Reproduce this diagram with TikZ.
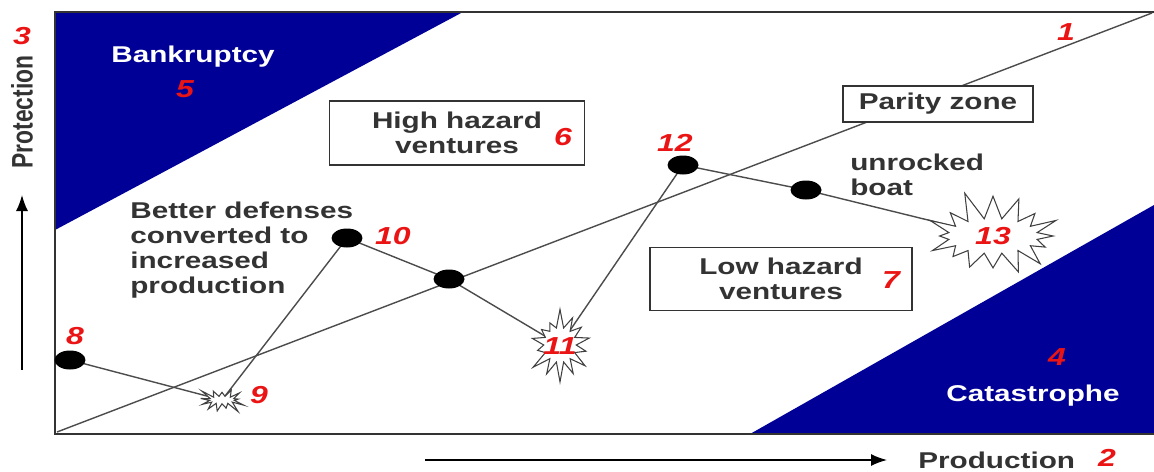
\documentclass[tikz,border=0pt]{standalone}
\usepackage{fontspec}
\setmainfont[FakeStretch=1.3]{Liberation Sans}
\newfontfamily\uprightsans{Liberation Sans}
\usetikzlibrary{arrows.meta,positioning,calc,shapes.geometric,shapes.symbols,backgrounds}
\definecolor{zoneblue}{RGB}{0,0,150}
\definecolor{numred}{RGB}{235,20,20}
\definecolor{inkgray}{gray}{0.2}

\begin{document}
\begin{tikzpicture}[
  x=0.02cm, y=-0.02cm,
  zone/.style={fill=zoneblue, draw=none},
  frame/.style={draw=black!80, line width=1.1pt},
  track/.style={draw=black!70, thick},
  dot/.style={ellipse, fill=black, minimum width=0.62cm, minimum height=0.38cm, inner sep=0pt},
  bang/.style={starburst, draw=black!75, fill=white, semithick, inner sep=0pt},
  zonebox/.style={draw=black!80, thick, fill=white, align=center, text=inkgray, font=\fontsize{13}{14.2}\selectfont\bfseries},
  num/.style={text=numred, font=\fontsize{14}{14}\selectfont\bfseries\itshape, inner sep=1pt},
  note/.style={text=inkgray, font=\fontsize{13}{14.2}\selectfont\bfseries, align=left, inner sep=0pt},
  zonename/.style={text=white, font=\fontsize{13}{14.2}\selectfont\bfseries},
  axis/.style={-{Latex[length=3.2mm, width=2.4mm]}, thick}
]
\useasboundingbox (0,0) rectangle (1154,471);
% points along the path
\node[dot] (p8) at (70,360) {};
\node[bang, starburst points=13, starburst point height=0.25cm, minimum width=1.0cm, minimum height=0.65cm, random starburst=3] (p9) at (222,400) {};
\node[dot] (p10) at (347,238) {};
\node[dot] (pmid) at (449,279) {};
\node[bang, starburst points=14, starburst point height=0.4cm, minimum width=1.45cm, minimum height=1.5cm, random starburst=7] (p11) at (560,345) {};
\node[dot] (p12) at (683,165) {};
\node[dot] (pboat) at (806,190) {};
\node[bang, starburst points=16, starburst point height=0.6cm, minimum width=3.0cm, minimum height=1.9cm, random starburst=11] (p13) at (993,236) {};
% boxes
\node[zonebox, minimum width=5.1cm, minimum height=1.28cm] (high) at (457,133) {High hazard\\ventures};
\node[zonebox, minimum width=3.8cm, minimum height=0.72cm] (parity) at (938,104) {Parity zone};
\node[zonebox, minimum width=5.24cm, minimum height=1.26cm] (low) at (781,279) {Low hazard\\ventures};
% corners of the plot
\coordinate (origin) at (57,432);
\coordinate (corner) at (1152,13);
\begin{scope}[on background layer]
  % shaded zones
  \fill[zone] (55,12) -- (463,12) -- (55,230) -- cycle;
  \fill[zone] (750,434) -- (1154,434) -- (1154,205) -- cycle;
  % frame
  \draw[frame] (1154,12) -- (55,12) -- (55,434) -- (1154,434);
  % parity line and path
  \draw[track] (origin) -- (corner);
  \draw[track] (p8.center) -- (p9.center) -- (p10.center) -- (pmid.center) -- (p11.center) -- (p12.center) -- (pboat.center) -- (p13.center);
\end{scope}
% texts
\node[zonename] (bank) at (193,57) {Bankruptcy};
\node[zonename] (cata) at (1033,396) {Catastrophe};
\node[note, anchor=north west] (better) at (130,202) {Better defenses\\converted to\\increased\\production};
\node[note, anchor=west] (boat) at (850,175) {unrocked\\boat};
% axes
\coordinate (ytail) at (22,370);
\coordinate (yhead) at (22,195);
\draw[axis] (ytail) -- (yhead);
\node[note, rotate=90, font=\uprightsans\fontsize{13}{14.2}\selectfont\bfseries] (prot) at (22,112) {\scalebox{1}[1.3]{Protection}};
\coordinate (xtail) at (425,460);
\coordinate (xhead) at (887,460);
\draw[axis] (xtail) -- (xhead);
\node[note, anchor=west] (prod) at (918,460) {Production};
% numbers
\node[num] (n1) at (1066,32) {1};
\node[num] (n2) at (1107,458) {2};
\node[num] (n3) at (22,36) {3};
\node[num] (n4) at (1057,357) {4};
\node[num] (n5) at (185,89) {5};
\node[num] (n6) at (563,137) {6};
\node[num] (n7) at (891,280) {7};
\node[num] (n8) at (75,336) {8};
\node[num] (n9) at (259,395) {9};
\node[num] (n10) at (393,236) {10};
\node[num] (n11) at (560,346) {11};
\node[num] (n12) at (675,143) {12};
\node[num] (n13) at (993,236) {13};
\end{tikzpicture}
\end{document}
